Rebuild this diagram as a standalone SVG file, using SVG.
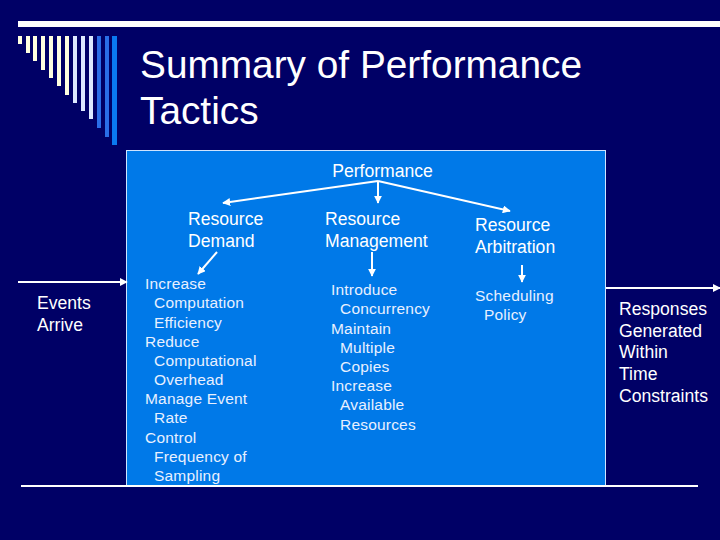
<svg xmlns="http://www.w3.org/2000/svg" width="720" height="540" viewBox="0 0 720 540">
<defs>
<style>
text{font-family:"Liberation Sans",Arial,sans-serif;fill:#fff}
.t{font-size:38.8px}
.h{font-size:17.6px}
.s{font-size:15.5px;fill:#e8f0ff;letter-spacing:0.2px}
.ln{stroke:#fff;stroke-width:2;fill:none}
.c1{fill:#ffffe0}.c2{fill:#dde8ff}.c3{fill:#2a6ee8}
</style>
<marker id="ah" viewBox="0 0 10 10" refX="9" refY="5" markerWidth="4" markerHeight="4" orient="auto" markerUnits="strokeWidth"><path d="M0,0L10,5L0,10z" fill="#fff"/></marker>
</defs>
<rect width="720" height="540" fill="#000066"/>
<g id="decor">
<rect x="18" y="21" width="702" height="6" fill="#fff"/>
<rect class="c1" x="18" y="36" width="4" height="8"/>
<rect class="c1" x="26" y="36" width="4" height="17"/>
<rect class="c1" x="33" y="36" width="4" height="25"/>
<rect class="c1" x="41" y="36" width="4" height="34"/>
<rect class="c1" x="49" y="36" width="4" height="42"/>
<rect class="c1" x="57" y="36" width="4" height="50"/>
<rect class="c1" x="65" y="36" width="4" height="59"/>
<rect class="c2" x="73" y="36" width="4" height="67"/>
<rect class="c2" x="81" y="36" width="4" height="75"/>
<rect class="c2" x="89" y="36" width="4" height="83"/>
<rect class="c3" x="97" y="36" width="4" height="92"/>
<rect class="c3" x="105" y="36" width="4" height="101"/>
<rect x="112" y="36" width="5" height="109" fill="#0a78f0"/>
</g>
<g id="title">
<text class="t" x="140" y="78">Summary of Performance</text>
<text class="t" x="140" y="124">Tactics</text>
</g>
<rect id="box" x="126.5" y="150.5" width="479" height="335" fill="#0079e8" stroke="#cfe4ff" stroke-width="1"/>
<g id="connectors">
<line class="ln" x1="378" y1="181" x2="223" y2="203" marker-end="url(#ah)"/>
<line class="ln" x1="378" y1="181" x2="378" y2="203" marker-end="url(#ah)"/>
<line class="ln" x1="378" y1="181" x2="510" y2="211" marker-end="url(#ah)"/>
<line class="ln" x1="217" y1="252" x2="198" y2="274" marker-end="url(#ah)"/>
<line class="ln" x1="372" y1="252" x2="372" y2="276" marker-end="url(#ah)"/>
<line class="ln" x1="522" y1="265" x2="522" y2="282" marker-end="url(#ah)"/>
<line class="ln" x1="18" y1="282" x2="127" y2="282" marker-end="url(#ah)"/>
<line class="ln" x1="606" y1="288" x2="720" y2="288" marker-end="url(#ah)"/>
<line class="ln" x1="21" y1="486" x2="698" y2="486"/>
</g>
<g id="performance"><text class="h" x="382.5" y="177" text-anchor="middle">Performance</text></g>
<g id="resource-demand">
<text class="h" x="188" y="225">Resource</text>
<text class="h" x="188" y="246.5">Demand</text>
</g>
<g id="resource-management">
<text class="h" x="325" y="225">Resource</text>
<text class="h" x="325" y="247">Management</text>
</g>
<g id="resource-arbitration">
<text class="h" x="475" y="231">Resource</text>
<text class="h" x="475" y="253">Arbitration</text>
</g>
<g id="events-arrive">
<text class="h" x="37" y="309">Events</text>
<text class="h" x="37" y="331">Arrive</text>
</g>
<g id="responses">
<text class="h" x="619" y="314.5">Responses</text>
<text class="h" x="619" y="336.5">Generated</text>
<text class="h" x="619" y="358">Within</text>
<text class="h" x="619" y="379.5">Time</text>
<text class="h" x="619" y="401.5">Constraints</text>
</g>
<g id="demand-tactics">
<text class="s" x="145" y="289">Increase</text>
<text class="s" x="154" y="308">Computation</text>
<text class="s" x="154" y="327.5">Efficiency</text>
<text class="s" x="145" y="346.5">Reduce</text>
<text class="s" x="154" y="366">Computational</text>
<text class="s" x="154" y="385">Overhead</text>
<text class="s" x="145" y="404">Manage Event</text>
<text class="s" x="154" y="423">Rate</text>
<text class="s" x="145" y="442.5">Control</text>
<text class="s" x="154" y="462">Frequency of</text>
<text class="s" x="154" y="481">Sampling</text>
</g>
<g id="management-tactics">
<text class="s" x="331" y="295">Introduce</text>
<text class="s" x="340" y="314">Concurrency</text>
<text class="s" x="331" y="334">Maintain</text>
<text class="s" x="340" y="353">Multiple</text>
<text class="s" x="340" y="372">Copies</text>
<text class="s" x="331" y="391">Increase</text>
<text class="s" x="340" y="410">Available</text>
<text class="s" x="340" y="430">Resources</text>
</g>
<g id="arbitration-tactics">
<text class="s" x="475" y="301">Scheduling</text>
<text class="s" x="484" y="320">Policy</text>
</g>
</svg>
